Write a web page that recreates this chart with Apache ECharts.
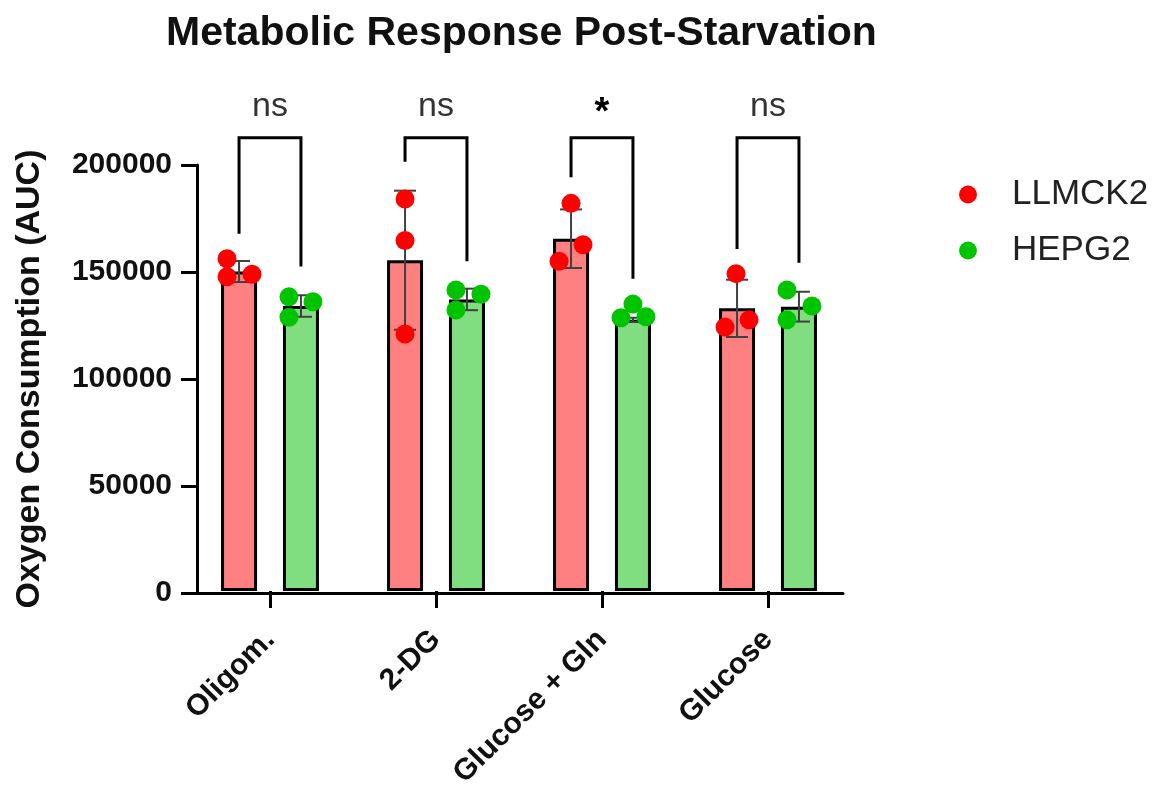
<!DOCTYPE html>
<html>
<head>
<meta charset="utf-8">
<script src="https://cdn.jsdelivr.net/npm/echarts@6/dist/echarts.min.js"></script>
<style>html,body{margin:0;padding:0;background:#fff;}#chart{width:1158px;height:791px;}</style>
</head>
<body>
<div id="chart"></div>
<script>
// ---- data ----
const categories = ['Oligom.', '2-DG', 'Glucose + Gln', 'Glucose'];
const llmck2Mean = [150000, 155300, 165400, 132700];
const llmck2Sd = [4950, 32650, 13750, 13450];
const hepg2Mean = [133800, 136900, 127300, 133500];
const hepg2Sd = [5050, 5050, 1000, 7000];
const llmck2Points = [[156000, 147500, 148700], [184000, 164600, 120700], [182000, 162600, 154800], [149000, 127300, 123900]];
const hepg2Points = [[138100, 135800, 128500], [141300, 139300, 131900], [134700, 128300, 128800], [141300, 133800, 127300]];
const sigLabels = ['ns', 'ns', '*', 'ns'];
const bracketTop = [212800, 212800, 212800, 212800];
const bracketLeftEnd = [167750, 201540, 194250, 160600];
const bracketRightEnd = [152340, 154800, 146590, 154070];
const yMin = 0, yMax = 200000, yInterval = 50000;

// ---- layout / style ----
const barWidth = 36, barGapRatio = 0.72;
const groupOffset = barWidth * (1 + barGapRatio) / 2;
const llmck2Jitter = [[-12, -12, 13], [0, 0, 0], [0, 12, -12], [-1, 12, -12]];
const hepg2Jitter = [[-12, 12, -12], [-11, 14, -11], [0, -12, 13], [-12, 13, -12]];
const FONT = '"Liberation Sans", Arial, Helvetica, sans-serif';
const RED_BAR = '#FF8080', GREEN_BAR = '#80DD80';
const RED_PT = '#FF0000', GREEN_PT = '#00C400';

const chart = echarts.init(document.getElementById('chart'));

function pointsData(points, jitter, side) {
  const out = [];
  points.forEach((arr, i) => arr.forEach((v, k) => {
    out.push({ value: [i, v], symbolOffset: [side * groupOffset + jitter[i][k], 0] });
  }));
  return out;
}

function errorSeries(name, means, sds, side) {
  return {
    type: 'custom', name: name, xAxisIndex: 0, yAxisIndex: 0, z: 4,
    data: means.map((m, i) => [i, m, sds[i]]),
    renderItem: function (params, api) {
      const i = api.value(0), m = api.value(1), s = api.value(2);
      const hi = api.coord([i, m + s]);
      const lo = api.coord([i, m - s]);
      const x = hi[0] + side * groupOffset;
      const st = { stroke: '#404040', lineWidth: 2 };
      return {
        type: 'group',
        children: [
          { type: 'line', shape: { x1: x, y1: hi[1], x2: x, y2: lo[1] }, style: st },
          { type: 'line', shape: { x1: x - 11, y1: hi[1], x2: x + 11, y2: hi[1] }, style: st },
          { type: 'line', shape: { x1: x - 11, y1: lo[1], x2: x + 11, y2: lo[1] }, style: st }
        ]
      };
    }
  };
}

const option = {
  backgroundColor: '#fff',
  animation: false,
  title: {
    text: 'Metabolic Response Post-Starvation',
    left: 161, top: 8,
    textStyle: { fontFamily: FONT, fontSize: 41, fontWeight: 'bold', color: '#111' }
  },
  legend: {
    orient: 'vertical', left: 954, top: 172, itemGap: 21,
    itemWidth: 18, itemHeight: 18,
    data: [{ name: 'LLMCK2', icon: 'circle' }, { name: 'HEPG2', icon: 'circle' }],
    textStyle: { fontFamily: FONT, fontSize: 35, color: '#222', padding: [0, 0, 0, 30] }
  },
  grid: [
    { left: 187, right: 307, top: 165, bottom: 198 },
    { left: 197, right: 315, top: 165, bottom: 198 }
  ],
  xAxis: [
    {
      type: 'category', gridIndex: 0, data: categories,
      axisLine: { show: false },
      axisTick: { show: true, alignWithLabel: true, interval: 0, length: 17, lineStyle: { color: '#000', width: 3 } },
      axisLabel: { interval: 0, rotate: 45, margin: 44, fontFamily: FONT, fontSize: 30, fontWeight: 'bold', color: '#111' },
      splitLine: { show: false }
    },
    {
      type: 'value', gridIndex: 1, min: 0, max: 1,
      axisLine: { show: true, lineStyle: { color: '#000', width: 3 } },
      axisTick: { show: false }, axisLabel: { show: false }, splitLine: { show: false }
    }
  ],
  yAxis: [
    { type: 'value', gridIndex: 0, min: yMin, max: yMax, interval: yInterval, show: false, splitLine: { show: false } },
    {
      type: 'value', gridIndex: 1, min: yMin, max: yMax, interval: yInterval,
      name: 'Oxygen Consumption (AUC)', nameLocation: 'middle', nameGap: 150,
      nameTextStyle: { fontFamily: FONT, fontSize: 34, fontWeight: 'bold', color: '#111' },
      axisLine: { show: true, lineStyle: { color: '#000', width: 3 } },
      axisTick: { show: true, length: 16, lineStyle: { color: '#000', width: 3 } },
      axisLabel: { margin: 25, formatter: v => String(v), fontFamily: FONT, fontSize: 30, fontWeight: 'bold', color: '#111' },
      splitLine: { show: false }
    }
  ],
  series: [
    {
      type: 'bar', name: 'LLMCK2 mean', xAxisIndex: 0, yAxisIndex: 0, z: 2,
      data: llmck2Mean, barWidth: barWidth, barGap: (barGapRatio * 100) + '%',
      itemStyle: { color: RED_BAR, borderColor: '#000', borderWidth: 3 }
    },
    {
      type: 'bar', name: 'HEPG2 mean', xAxisIndex: 0, yAxisIndex: 0, z: 2,
      data: hepg2Mean, barWidth: barWidth, barGap: (barGapRatio * 100) + '%',
      itemStyle: { color: GREEN_BAR, borderColor: '#000', borderWidth: 3 }
    },
    errorSeries('LLMCK2 sd', llmck2Mean, llmck2Sd, -1),
    errorSeries('HEPG2 sd', hepg2Mean, hepg2Sd, 1),
    {
      type: 'scatter', name: 'LLMCK2', xAxisIndex: 0, yAxisIndex: 0, z: 5,
      symbol: 'circle', symbolSize: 19,
      itemStyle: { color: RED_PT, opacity: 1 },
      data: pointsData(llmck2Points, llmck2Jitter, -1)
    },
    {
      type: 'scatter', name: 'HEPG2', xAxisIndex: 0, yAxisIndex: 0, z: 5,
      symbol: 'circle', symbolSize: 19,
      itemStyle: { color: GREEN_PT, opacity: 1 },
      data: pointsData(hepg2Points, hepg2Jitter, 1)
    },
    {
      type: 'custom', name: 'significance', xAxisIndex: 0, yAxisIndex: 0, z: 6,
      data: categories.map((c, i) => [i, bracketTop[i], bracketLeftEnd[i], bracketRightEnd[i]]),
      renderItem: function (params, api) {
        const i = api.value(0);
        const top = api.coord([i, api.value(1)]);
        const le = api.coord([i, api.value(2)]);
        const re = api.coord([i, api.value(3)]);
        const xl = top[0] - groupOffset, xr = top[0] + groupOffset;
        const lbl = sigLabels[params.dataIndex];
        const isStar = lbl === '*';
        return {
          type: 'group',
          children: [
            { type: 'polyline', shape: { points: [[xl, le[1]], [xl, top[1]], [xr, top[1]], [xr, re[1]]] },
              style: { stroke: '#000', lineWidth: 3, fill: null } },
            { type: 'text', x: top[0], y: top[1] - (isStar ? 24 : 31),
              style: { text: lbl, align: 'center', verticalAlign: 'middle',
                fontFamily: FONT, fontSize: isStar ? 38 : 34, fontWeight: isStar ? 'bold' : 'normal',
                fill: isStar ? '#000' : '#333' } }
          ]
        };
      }
    }
  ]
};
chart.setOption(option);
</script>
</body>
</html>
